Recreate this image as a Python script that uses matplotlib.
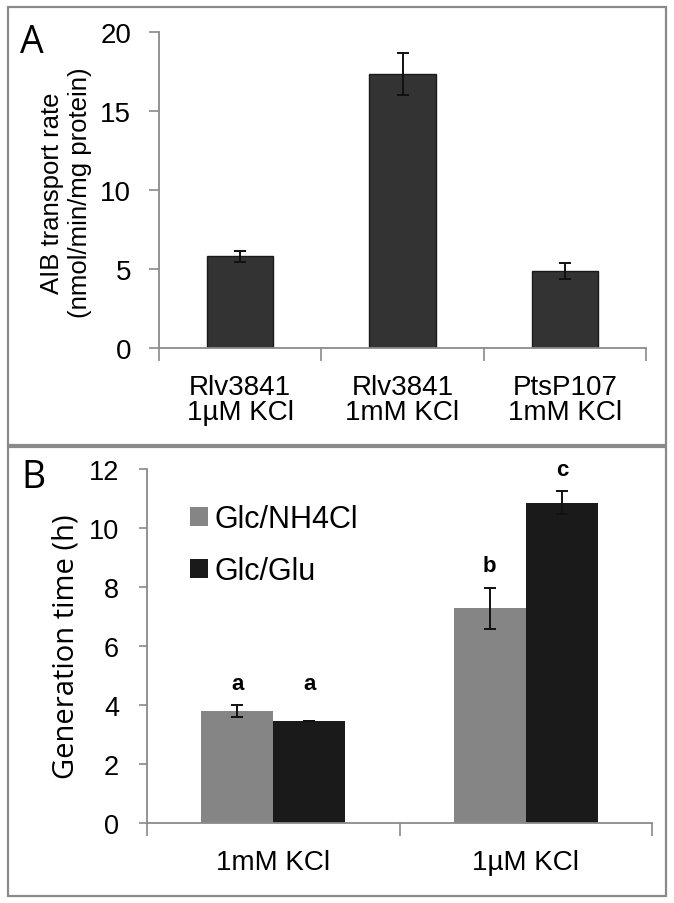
import matplotlib
matplotlib.use("Agg")
import matplotlib.pyplot as plt
from matplotlib.patches import Rectangle
import numpy as np

plt.rcParams['font.family'] = ['Liberation Sans', 'DejaVu Sans']

# Panel A data
a_categories = ["Rlv3841\n1\u00b5M KCl", "Rlv3841\n1mM KCl", "PtsP107\n1mM KCl"]
a_values = [5.8, 17.35, 4.85]
a_errors = [0.33, 1.33, 0.5]

# Panel B data
b_categories = ["1mM KCl", "1\u00b5M KCl"]
b_series = ["Glc/NH4Cl", "Glc/Glu"]
b_nh4cl = [3.8, 7.28]
b_nh4cl_err = [0.2, 0.7]
b_glu = [3.46, 10.86]
b_glu_err = [0.0, 0.4]
b_letters_nh4cl = ["a", "b"]
b_letters_glu = ["a", "c"]

W, H = 674, 904
fig = plt.figure(figsize=(W / 100, H / 100), dpi=100)

def fx(px):
    return px / W

def fy(py):
    return 1 - py / H

spine_col = "#8a8a8a"
label_font = ["Open Sans", "DejaVu Sans"]

# Panel borders
fig.patches.append(Rectangle((fx(8), fy(446)), fx(666) - fx(8), fy(8) - fy(446),
                             transform=fig.transFigure, fill=False, edgecolor="#8a8a8a", lw=1.6))
fig.patches.append(Rectangle((fx(8), fy(897)), fx(666) - fx(8), fy(448) - fy(897),
                             transform=fig.transFigure, fill=False, edgecolor="#8a8a8a", lw=1.6))

def style_axes(ax, ylen, ysize, ypad):
    ax.tick_params(axis="x", which="major", length=0, pad=19)
    ax.tick_params(axis="x", which="minor", length=9, width=1.2, color=spine_col, direction="out")
    ax.tick_params(axis="y", length=ylen, width=1.2, color=spine_col, labelsize=ysize, pad=ypad)
    for s in ["top", "right"]:
        ax.spines[s].set_visible(False)
    for s in ["left", "bottom"]:
        ax.spines[s].set_color(spine_col)
        ax.spines[s].set_linewidth(1.3)

# ---------- Panel A ----------
axA = fig.add_axes([fx(159), fy(349), fx(646) - fx(159), fy(33) - fy(349)])
xa = np.arange(len(a_categories))
axA.bar(xa, a_values, width=0.41, color="#333333", edgecolor="#1a1a1a", lw=1.0, zorder=2)
axA.errorbar(xa, a_values, yerr=a_errors, fmt="none", ecolor="#111111", elinewidth=1.4,
             capsize=4, capthick=1.4, zorder=3)
axA.set_xlim(-0.5, 2.5)
axA.set_ylim(0, 20)
axA.set_yticks([0, 5, 10, 15, 20])
axA.set_xticks(xa)
axA.set_xticklabels(a_categories, fontsize=20, linespacing=0.95)
axA.set_xticks([-0.5, 0.5, 1.5, 2.5], minor=True)
style_axes(axA, 7, 20, 13)
fig.text(fx(66), fy(193), "AIB transport rate\n(nmol/min/mg protein)", fontsize=18.5,
         rotation=90, ha="center", va="center", linespacing=1.25)
fig.text(fx(20), fy(53), "A", fontsize=27, family=label_font, va="baseline", ha="left")

# ---------- Panel B ----------
axB = fig.add_axes([fx(147), fy(824), fx(652) - fx(147), fy(470) - fy(824)])
xb = np.arange(len(b_categories))
bw = 0.286
axB.bar(xb - bw / 2, b_nh4cl, width=bw, color="#858585", label=b_series[0], zorder=2)
axB.bar(xb + bw / 2, b_glu, width=bw, color="#1a1a1a", label=b_series[1], zorder=2)
axB.errorbar(xb - bw / 2, b_nh4cl, yerr=b_nh4cl_err, fmt="none", ecolor="#111111",
             elinewidth=1.4, capsize=4, capthick=1.4, zorder=3)
axB.errorbar(xb + bw / 2, b_glu, yerr=b_glu_err, fmt="none", ecolor="#111111",
             elinewidth=1.4, capsize=4, capthick=1.4, zorder=3)
for i in range(len(b_categories)):
    t1 = b_nh4cl[i] + b_nh4cl_err[i]
    t2 = b_glu[i] + b_glu_err[i]
    if b_letters_nh4cl[i] == b_letters_glu[i]:
        t1 = t2 = max(t1, t2)
    axB.annotate(b_letters_nh4cl[i], (xb[i] - bw / 2, t1), xytext=(0, 8),
                 textcoords="offset points", ha="center", va="bottom", fontsize=16,
                 fontweight="bold")
    axB.annotate(b_letters_glu[i], (xb[i] + bw / 2, t2), xytext=(0, 8),
                 textcoords="offset points", ha="center", va="bottom", fontsize=16,
                 fontweight="bold")
axB.set_xlim(-0.5, 1.5)
axB.set_ylim(0, 12)
axB.set_yticks([0, 2, 4, 6, 8, 10, 12])
axB.set_xticks(xb)
axB.set_xticklabels(b_categories, fontsize=20)
axB.set_xticks([-0.5, 0.5, 1.5], minor=True)
style_axes(axB, 6, 19.5, 14)
fig.text(fx(66), fy(647), "Generation time (h)", fontsize=21, rotation=90,
         ha="center", va="center", family=label_font)
leg = axB.legend(loc="upper left", bbox_to_anchor=(fx(190), fy(505)),
                 bbox_transform=fig.transFigure, frameon=False, fontsize=22,
                 handlelength=0.6, handleheight=0.6, handletextpad=0.2, labelspacing=0.72,
                 borderaxespad=0, borderpad=0)
fig.text(fx(21), fy(488), "B", fontsize=27, family=label_font, va="baseline", ha="left")

fig.savefig("out.png", dpi=100)
